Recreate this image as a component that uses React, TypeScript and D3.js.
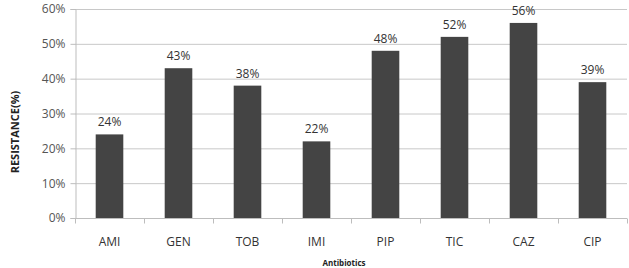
import { useEffect, useRef } from 'react'
import * as d3 from 'd3'

const categories = ['AMI', 'GEN', 'TOB', 'IMI', 'PIP', 'TIC', 'CAZ', 'CIP']
const resistance = [24, 43, 38, 22, 48, 52, 56, 39]
const yTicks = [0, 10, 20, 30, 40, 50, 60]

export default function App() {
  const svgRef = useRef<SVGSVGElement>(null)

  useEffect(() => {
    if (!svgRef.current) return
    const svg = d3.select(svgRef.current)
    svg.selectAll('*').remove()

    const width = 629
    const height = 268
    const margin = { top: 9, right: 2, bottom: 50, left: 75 }
    const innerW = width - margin.left - margin.right
    const innerH = height - margin.top - margin.bottom
    const font = "'Open Sans', 'Liberation Sans', sans-serif"

    const x = d3.scaleBand().domain(categories).range([0, innerW]).paddingInner(0.6).paddingOuter(0.3)
    const y = d3.scaleLinear().domain([0, 60]).range([innerH, 0])

    const g = svg.append('g').attr('transform', `translate(${margin.left},${margin.top})`)

    // gridlines
    g.selectAll('.grid')
      .data(yTicks.slice(1))
      .enter()
      .append('line')
      .attr('x1', 0)
      .attr('x2', innerW)
      .attr('y1', d => y(d) + 0.5)
      .attr('y2', d => y(d) + 0.5)
      .attr('stroke', '#c8c8c8')

    // y axis
    const yAxis = g.append('g').attr('transform', 'translate(0.5,0)')
      .call(d3.axisLeft(y).tickValues(yTicks).tickFormat(d => `${d}%`).tickSize(5).tickPadding(5))
    yAxis.select('.domain').attr('stroke', '#bdbdbd')
    yAxis.selectAll('.tick line').attr('stroke', '#bdbdbd')
    yAxis.selectAll('text').attr('font-size', 12).attr('font-family', font).attr('fill', '#555')

    // x axis
    const xBoundaries = d3.range(categories.length + 1).map(i => i * innerW / categories.length)
    const xAxis = g.append('g').attr('transform', `translate(0,${innerH + 0.5})`)
    xAxis.append('line').attr('x1', 0).attr('x2', innerW).attr('stroke', '#bdbdbd')
    xAxis.selectAll('.xt')
      .data(xBoundaries)
      .enter()
      .append('line')
      .attr('x1', d => d + 0.5)
      .attr('x2', d => d + 0.5)
      .attr('y1', 0)
      .attr('y2', 5)
      .attr('stroke', '#bdbdbd')
    xAxis.selectAll('.xl')
      .data(categories)
      .enter()
      .append('text')
      .attr('x', d => x(d)! + x.bandwidth() / 2)
      .attr('y', 27)
      .attr('text-anchor', 'middle')
      .attr('font-size', 12)
      .attr('font-family', font)
      .attr('fill', '#333')
      .text(d => d)

    // bars
    g.selectAll('.bar')
      .data(categories)
      .enter()
      .append('rect')
      .attr('x', d => x(d)!)
      .attr('y', (d, i) => y(resistance[i]))
      .attr('width', x.bandwidth())
      .attr('height', (d, i) => innerH - y(resistance[i]))
      .attr('fill', '#444444')

    // value labels
    g.selectAll('.val')
      .data(categories)
      .enter()
      .append('text')
      .attr('x', d => x(d)! + x.bandwidth() / 2)
      .attr('y', (d, i) => y(resistance[i]) - 8)
      .attr('text-anchor', 'middle')
      .attr('font-size', 12)
      .attr('font-family', font)
      .attr('fill', '#333')
      .text((d, i) => `${resistance[i]}%`)

    // axis titles
    svg.append('text')
      .attr('transform', `translate(19,132) rotate(-90)`)
      .attr('text-anchor', 'middle')
      .attr('font-size', 11)
      .attr('font-weight', 'bold')
      .attr('font-family', font)
      .attr('fill', '#222')
      .text('RESISTANCE(%)')

    svg.append('text')
      .attr('x', 344)
      .attr('y', 266)
      .attr('text-anchor', 'middle')
      .attr('font-size', 8)
      .attr('font-weight', 'bold')
      .attr('font-family', font)
      .attr('fill', '#222')
      .text('Antibiotics')
  }, [])

  return (
    <svg
      ref={svgRef}
      width={629}
      height={268}
      style={{ position: 'absolute', left: 0, top: 0, background: '#fff' }}
    />
  )
}
